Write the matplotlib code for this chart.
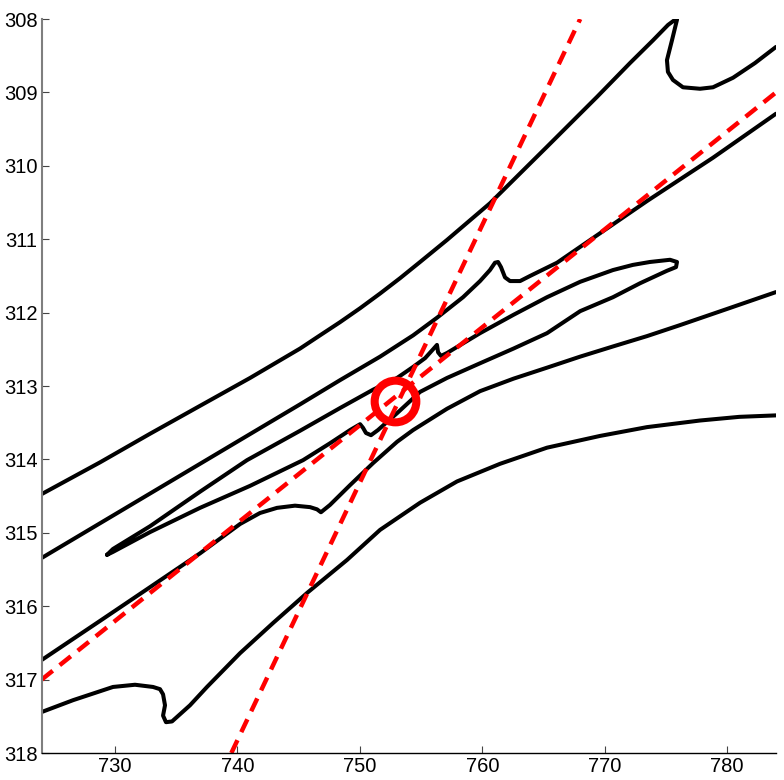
import matplotlib
matplotlib.use("Agg")
import matplotlib.pyplot as plt

plt.rcParams['font.family'] = ['Liberation Sans', 'DejaVu Sans']

# upper contour (runs off the top and comes back as a hook)
a_x = [724.03, 728.77, 732.86, 736.94, 741.03, 745.11, 746.74, 748.38, 750.02, 751.65,
       753.29, 754.92, 757.12, 760.63, 765.29, 769.38, 772.07, 773.95, 775.18, 775.83,
       775.87, 775.91, 775.50, 775.09, 775.17, 775.58, 776.40, 777.79, 778.85, 780.49,
       782.28, 784.0]
a_y = [314.47, 314.04, 313.65, 313.27, 312.89, 312.49, 312.31, 312.13, 311.94, 311.74,
       311.53, 311.31, 311.01, 310.51, 309.74, 309.06, 308.60, 308.29, 308.08, 308.00,
       307.90, 308.01, 308.29, 308.56, 308.72, 308.83, 308.93, 308.95, 308.93, 308.80,
       308.60, 308.38]

# second contour with the spike near 761
b_x = [724.03, 728.77, 736.94, 745.11, 748.38, 751.65, 754.35, 756.30, 758.43, 759.82,
       760.63, 761.04, 761.29, 761.53, 761.86, 762.27, 763.09, 763.91, 766.11, 768.56,
       769.87, 773.46, 778.85, 784.0]
b_y = [315.34, 314.87, 314.06, 313.25, 312.92, 312.60, 312.31, 312.07, 311.79, 311.57,
       311.42, 311.32, 311.31, 311.38, 311.52, 311.57, 311.57, 311.50, 311.32, 311.04,
       310.89, 310.48, 309.89, 309.29]

# closed, pinched loop
loop_x = [729.34, 729.83, 732.86, 736.94, 740.78, 745.11, 748.38, 751.08, 753.04, 754.35,
          755.33, 755.98, 756.30, 756.39, 756.63, 757.12, 759.82, 762.55, 765.29, 768.00,
          770.68, 772.30, 773.70, 775.34, 775.91, 775.83, 775.09, 772.89, 770.68, 768.00,
          765.29, 762.55, 759.82, 757.12, 754.92, 753.04, 752.22, 751.48, 750.91, 750.50,
          750.26, 750.02, 749.20, 747.56, 745.36, 741.03, 736.94, 732.86, 729.83, 729.34]
loop_y = [315.30, 315.22, 314.91, 314.44, 314.01, 313.61, 313.30, 313.05, 312.89, 312.74,
          312.62, 312.50, 312.44, 312.54, 312.59, 312.55, 312.28, 312.03, 311.79, 311.58,
          311.42, 311.35, 311.31, 311.28, 311.31, 311.38, 311.43, 311.60, 311.79, 311.98,
          312.28, 312.49, 312.69, 312.89, 313.08, 313.37, 313.49, 313.60, 313.67, 313.64,
          313.57, 313.52, 313.60, 313.78, 314.01, 314.36, 314.66, 314.99, 315.26, 315.30]

# third contour (flat wiggle near 745)
c_x = [724.03, 728.77, 732.86, 736.94, 740.21, 741.84, 743.23, 744.70, 745.93, 746.50,
       746.82, 747.56, 749.20, 751.08, 753.04, 754.35, 757.12, 759.82, 762.55, 765.29,
       767.99, 770.70, 773.46, 776.16, 780.00, 784.0]
c_y = [316.73, 316.20, 315.74, 315.28, 314.88, 314.73, 314.66, 314.63, 314.65, 314.68,
       314.72, 314.62, 314.35, 314.05, 313.76, 313.60, 313.31, 313.07, 312.90, 312.75,
       312.60, 312.46, 312.32, 312.17, 311.95, 311.72]

# bottom contour with the hook near 734
d_x = [724.03, 726.57, 729.83, 731.63, 733.10, 733.67, 733.92, 734.08, 733.92, 734.16,
       734.65, 736.12, 737.51, 740.21, 742.90, 745.68, 748.95, 751.65, 754.92, 757.94,
       761.45, 765.29, 769.62, 773.46, 777.79, 781.00, 784.0]
d_y = [317.44, 317.28, 317.10, 317.07, 317.10, 317.13, 317.20, 317.35, 317.49, 317.58,
       317.57, 317.35, 317.10, 316.64, 316.23, 315.82, 315.37, 314.96, 314.59, 314.30,
       314.06, 313.84, 313.68, 313.56, 313.47, 313.42, 313.40]

# dashed reference lines and the marked point
steep_x = [739.5, 768.0]
steep_y = [318.0, 308.0]
shallow_x = [724.0, 784.0]
shallow_y = [317.0, 309.0]
pt_x = [752.9]
pt_y = [313.2]

fig = plt.figure(figsize=(7.84, 7.80), dpi=100)
ax = fig.add_axes([0.0531, 0.0346, 0.9367, 0.941])

for xs, ys in [(a_x, a_y), (b_x, b_y), (loop_x, loop_y), (c_x, c_y), (d_x, d_y)]:
    ax.plot(xs, ys, color="black", lw=2.9, solid_capstyle="round", solid_joinstyle="round")

for xs, ys in [(steep_x, steep_y), (shallow_x, shallow_y)]:
    ax.plot(xs, ys, color="red", lw=3.2, dashes=(3.2, 2.0))

ax.plot(pt_x, pt_y, "o", ms=30, mfc="none", mec="red", mew=5.8)

ax.set_xlim(724, 784)
ax.set_ylim(318, 308)
ax.set_xticks([730, 740, 750, 760, 770, 780])
ax.set_yticks(list(range(308, 319)))

ax.spines["top"].set_visible(False)
ax.spines["right"].set_visible(False)
ax.spines["left"].set_color("#7f7f7f")
ax.spines["left"].set_linewidth(1.5)
ax.spines["bottom"].set_color("black")
ax.spines["bottom"].set_linewidth(1.0)
ax.tick_params(direction="in", length=5, width=0.8, color="#444444",
               labelsize=14.5, pad=3)

plt.savefig("out.png", dpi=100)
plt.close()
